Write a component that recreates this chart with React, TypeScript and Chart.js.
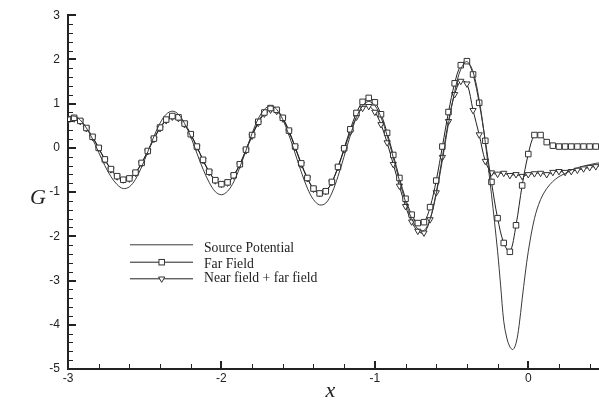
import React, { useEffect, useRef } from 'react';
import { Chart, registerables } from 'chart.js';

Chart.register(...registerables);

// ---- data ----
const xValues = [
  -3.0, -2.96, -2.92, -2.88, -2.84, -2.8, -2.76, -2.72, -2.68, -2.64,
  -2.6, -2.56, -2.52, -2.48, -2.44, -2.4, -2.36, -2.32, -2.28, -2.24,
  -2.2, -2.16, -2.12, -2.08, -2.04, -2.0, -1.96, -1.92, -1.88, -1.84,
  -1.8, -1.76, -1.72, -1.68, -1.64, -1.6, -1.56, -1.52, -1.48, -1.44,
  -1.4, -1.36, -1.32, -1.28, -1.24, -1.2, -1.16, -1.12, -1.08, -1.04,
  -1.0, -0.96, -0.92, -0.88, -0.84, -0.8, -0.76, -0.72, -0.68, -0.64,
  -0.6, -0.56, -0.52, -0.48, -0.44, -0.4, -0.36, -0.32, -0.28, -0.24,
  -0.2, -0.16, -0.12, -0.08, -0.04, 0.0, 0.04, 0.08, 0.12, 0.16,
  0.2, 0.24, 0.28, 0.32, 0.36, 0.4, 0.44, 0.48,
];

const farField = [
  0.65, 0.68, 0.61, 0.45, 0.25, 0.0, -0.26, -0.48, -0.64, -0.72,
  -0.69, -0.56, -0.34, -0.07, 0.21, 0.46, 0.64, 0.72, 0.69, 0.55,
  0.31, 0.03, -0.27, -0.54, -0.73, -0.82, -0.78, -0.62, -0.37, -0.04,
  0.29, 0.59, 0.8, 0.9, 0.86, 0.68, 0.39, 0.03, -0.35, -0.68,
  -0.92, -1.03, -0.98, -0.77, -0.43, -0.01, 0.42, 0.79, 1.04, 1.13,
  1.03, 0.76, 0.34, -0.16, -0.68, -1.15, -1.51, -1.7, -1.68, -1.34,
  -0.74, 0.03, 0.81, 1.46, 1.87, 1.96, 1.66, 1.02, 0.16, -0.77,
  -1.59, -2.15, -2.35, -1.75, -0.85, -0.14, 0.29, 0.29, 0.13, 0.05,
  0.03, 0.03, 0.03, 0.03, 0.03, 0.03, 0.03, 0.03,
];

const nearFarField = [
  0.63, 0.66, 0.6, 0.44, 0.24, -0.01, -0.27, -0.49, -0.65, -0.72,
  -0.7, -0.57, -0.35, -0.08, 0.2, 0.44, 0.62, 0.7, 0.67, 0.53,
  0.3, 0.02, -0.28, -0.55, -0.74, -0.82, -0.79, -0.63, -0.38, -0.06,
  0.27, 0.56, 0.77, 0.86, 0.83, 0.66, 0.37, 0.01, -0.37, -0.69,
  -0.93, -1.03, -0.98, -0.78, -0.44, -0.04, 0.36, 0.7, 0.9, 0.94,
  0.81, 0.53, 0.12, -0.37, -0.86, -1.32, -1.67, -1.88, -1.92, -1.62,
  -1.01, -0.21, 0.6, 1.21, 1.51, 1.45, 0.85, 0.3, -0.3, -0.56,
  -0.59, -0.57, -0.62, -0.6, -0.64, -0.6, -0.58, -0.57, -0.6, -0.55,
  -0.53, -0.55, -0.53, -0.5, -0.47, -0.44, -0.42, -0.4,
];

const sourceX = [
  -3.0, -2.96, -2.92, -2.88, -2.84, -2.8, -2.76, -2.72, -2.68, -2.64,
  -2.6, -2.56, -2.52, -2.48, -2.44, -2.4, -2.36, -2.32, -2.28, -2.24,
  -2.2, -2.16, -2.12, -2.08, -2.04, -2.0, -1.96, -1.92, -1.88, -1.84,
  -1.8, -1.76, -1.72, -1.68, -1.64, -1.6, -1.56, -1.52, -1.48, -1.44,
  -1.4, -1.36, -1.32, -1.28, -1.24, -1.2, -1.16, -1.12, -1.08, -1.04,
  -1.0, -0.96, -0.92, -0.88, -0.84, -0.8, -0.76, -0.72, -0.68, -0.64,
  -0.6, -0.56, -0.52, -0.48, -0.44, -0.4, -0.36, -0.32, -0.28, -0.24,
  -0.22, -0.2, -0.18, -0.16, -0.14, -0.12, -0.1, -0.08, -0.06, -0.04,
  -0.02, 0.0, 0.04, 0.08, 0.12, 0.16, 0.2, 0.24, 0.28, 0.32,
  0.36, 0.4, 0.44, 0.48,
];

const sourcePotential = [
  0.69, 0.72, 0.63, 0.45, 0.2, -0.1, -0.4, -0.65, -0.83, -0.92,
  -0.88, -0.71, -0.43, -0.09, 0.26, 0.56, 0.76, 0.83, 0.76, 0.55,
  0.25, -0.12, -0.48, -0.78, -0.99, -1.06, -0.98, -0.77, -0.44, -0.06,
  0.33, 0.66, 0.87, 0.95, 0.87, 0.64, 0.29, -0.12, -0.54, -0.91,
  -1.17, -1.29, -1.25, -1.02, -0.64, -0.19, 0.28, 0.69, 0.95, 1.05,
  0.96, 0.69, 0.28, -0.22, -0.74, -1.22, -1.6, -1.83, -1.87, -1.61,
  -1.04, -0.28, 0.55, 1.27, 1.78, 1.95, 1.72, 1.08, 0.12, -1.05,
  -1.68, -2.34, -3.12, -3.92, -4.3, -4.5, -4.56, -4.42, -4.02, -3.42,
  -2.85, -2.34, -1.6, -1.17, -0.92, -0.76, -0.65, -0.58, -0.5, -0.45,
  -0.41, -0.38, -0.35, -0.33,
];

const xTickValues = [-3, -2, -1, 0];
const yTickValues = [-5, -4, -3, -2, -1, 0, 1, 2, 3];
const seriesLabels = ['Source Potential', 'Far Field', 'Near field + far field'];
const xTitle = 'x';
const yTitle = 'G';

// ---- style ----
const INK = '#222222';
const SANS = "'Liberation Sans', Arial, Helvetica, sans-serif";
const SERIF = "'Liberation Serif', 'Times New Roman', serif";

const axisDecor = {
  id: 'axisDecor',
  afterDraw(chart: any) {
    const { ctx, chartArea } = chart;
    const xs = chart.scales.x;
    const ys = chart.scales.y;
    ctx.save();
    ctx.strokeStyle = INK;
    // x ticks (inward, upward)
    for (let k = 0; k <= 20; k++) {
      const v = -3 + k * 0.2;
      const isMajor = Math.abs(v - Math.round(v)) < 1e-6;
      const px = Math.round(xs.getPixelForValue(v));
      const len = isMajor ? 8 : 5;
      ctx.lineWidth = isMajor ? 2 : 1;
      ctx.beginPath();
      ctx.moveTo(px + (isMajor ? 0 : 0.5), chartArea.bottom);
      ctx.lineTo(px + (isMajor ? 0 : 0.5), chartArea.bottom - len);
      ctx.stroke();
    }
    // y ticks (inward, rightward)
    for (let k = 0; k <= 40; k++) {
      const v = -5 + k * 0.2;
      const isMajor = Math.abs(v - Math.round(v)) < 1e-6;
      const py = Math.round(ys.getPixelForValue(v));
      const len = isMajor ? 8 : 5;
      ctx.lineWidth = isMajor ? 2 : 1;
      ctx.beginPath();
      ctx.moveTo(chartArea.left, py + (isMajor ? 0 : 0.5));
      ctx.lineTo(chartArea.left + len, py + (isMajor ? 0 : 0.5));
      ctx.stroke();
    }
    // axis titles
    ctx.fillStyle = INK;
    ctx.textAlign = 'center';
    ctx.textBaseline = 'alphabetic';
    ctx.font = `italic 22px ${SERIF}`;
    ctx.fillText(yTitle, 38, 204);
    ctx.fillText(xTitle, (chartArea.left + chartArea.right) / 2 - 6, 397);
    ctx.restore();
  },
};

const legendBox = {
  id: 'legendBox',
  afterDraw(chart: any) {
    const { ctx } = chart;
    const lineY = [244.3, 261.7, 278.3];
    const textY = [251.7, 267.7, 282.3];
    const x0 = 130;
    const x1 = 193;
    const mx = 161.7;
    ctx.save();
    chart.data.datasets.forEach((ds: any, i: number) => {
      ctx.strokeStyle = ds.borderColor;
      ctx.lineWidth = 1;
      ctx.beginPath();
      ctx.moveTo(x0, lineY[i] + 0.5);
      ctx.lineTo(x1, lineY[i] + 0.5);
      ctx.stroke();
      if (ds.pointStyle === 'rect') {
        const s = 5.5;
        ctx.fillStyle = '#ffffff';
        ctx.strokeStyle = '#333333';
        ctx.fillRect(mx - s / 2, lineY[i] + 0.5 - s / 2, s, s);
        ctx.strokeRect(mx - s / 2, lineY[i] + 0.5 - s / 2, s, s);
      } else if (ds.pointStyle === 'triangle') {
        const r = 3.6;
        const cy = lineY[i] + 0.5;
        ctx.fillStyle = '#ffffff';
        ctx.strokeStyle = '#333333';
        ctx.beginPath();
        ctx.moveTo(mx, cy + r);
        ctx.lineTo(mx - r * 0.866, cy - r / 2);
        ctx.lineTo(mx + r * 0.866, cy - r / 2);
        ctx.closePath();
        ctx.fill();
        ctx.stroke();
      }
      ctx.fillStyle = INK;
      ctx.font = `13.7px ${SERIF}`;
      ctx.textAlign = 'left';
      ctx.textBaseline = 'alphabetic';
      ctx.fillText(ds.label, 204, textY[i]);
    });
    ctx.restore();
  },
};

export default function App() {
  const canvasRef = useRef<HTMLCanvasElement | null>(null);

  useEffect(() => {
    const canvas = canvasRef.current;
    if (!canvas) return;
    const chart = new Chart(canvas, {
      type: 'line',
      data: {
        datasets: [
          {
            label: seriesLabels[0],
            data: sourceX.map((x, i) => ({ x, y: sourcePotential[i] })),
            borderColor: '#3a3a3a',
            borderWidth: 1,
            pointRadius: 0,
            tension: 0.35,
          },
          {
            label: seriesLabels[1],
            data: xValues.map((x, i) => ({ x, y: farField[i] })),
            borderColor: '#222222',
            borderWidth: 1,
            pointStyle: 'rect',
            pointRadius: 3.9,
            pointBackgroundColor: '#ffffff',
            pointBorderColor: '#333333',
            pointBorderWidth: 1,
            tension: 0.35,
          },
          {
            label: seriesLabels[2],
            data: xValues.map((x, i) => ({ x, y: nearFarField[i] })),
            borderColor: '#222222',
            borderWidth: 1,
            pointStyle: 'triangle',
            pointRotation: 180,
            pointRadius: 3.6,
            pointBackgroundColor: '#ffffff',
            pointBorderColor: '#333333',
            pointBorderWidth: 1,
            tension: 0.35,
          },
        ] as any,
      },
      options: {
        responsive: false,
        animation: false,
        devicePixelRatio: 1,
        events: [],
        layout: { padding: { top: 13, right: 15, left: 0, bottom: 0 } },
        plugins: {
          legend: { display: false },
          tooltip: { enabled: false },
        },
        scales: {
          x: {
            type: 'linear',
            min: -3,
            max: 0.5,
            afterBuildTicks: (s: any) => {
              s.ticks = xTickValues.map((v) => ({ value: v }));
            },
            afterFit: (s: any) => {
              s.height = 31;
            },
            grid: { display: false, drawTicks: false },
            border: { display: true, width: 2, color: INK },
            ticks: {
              padding: 2,
              color: INK,
              autoSkip: false,
              maxRotation: 0,
              font: { family: SANS, size: 12 },
              callback: (v: any) => String(v),
            },
          },
          y: {
            type: 'linear',
            min: -5,
            max: 3,
            afterBuildTicks: (s: any) => {
              s.ticks = yTickValues.map((v) => ({ value: v }));
            },
            afterFit: (s: any) => {
              s.width = 68;
            },
            grid: { display: false, drawTicks: false },
            border: { display: true, width: 2, color: INK },
            ticks: {
              padding: 8,
              color: INK,
              autoSkip: false,
              font: { family: SANS, size: 12 },
              callback: (v: any) => String(v),
            },
          },
        },
      } as any,
      plugins: [axisDecor, legendBox],
    });
    return () => chart.destroy();
  }, []);

  return (
    <div
      style={{
        position: 'fixed',
        left: 0,
        top: 0,
        width: 599,
        height: 400,
        overflow: 'hidden',
        background: '#ffffff',
      }}
    >
      <canvas ref={canvasRef} width={620} height={400} style={{ width: 620, height: 400, display: 'block' }} />
    </div>
  );
}
